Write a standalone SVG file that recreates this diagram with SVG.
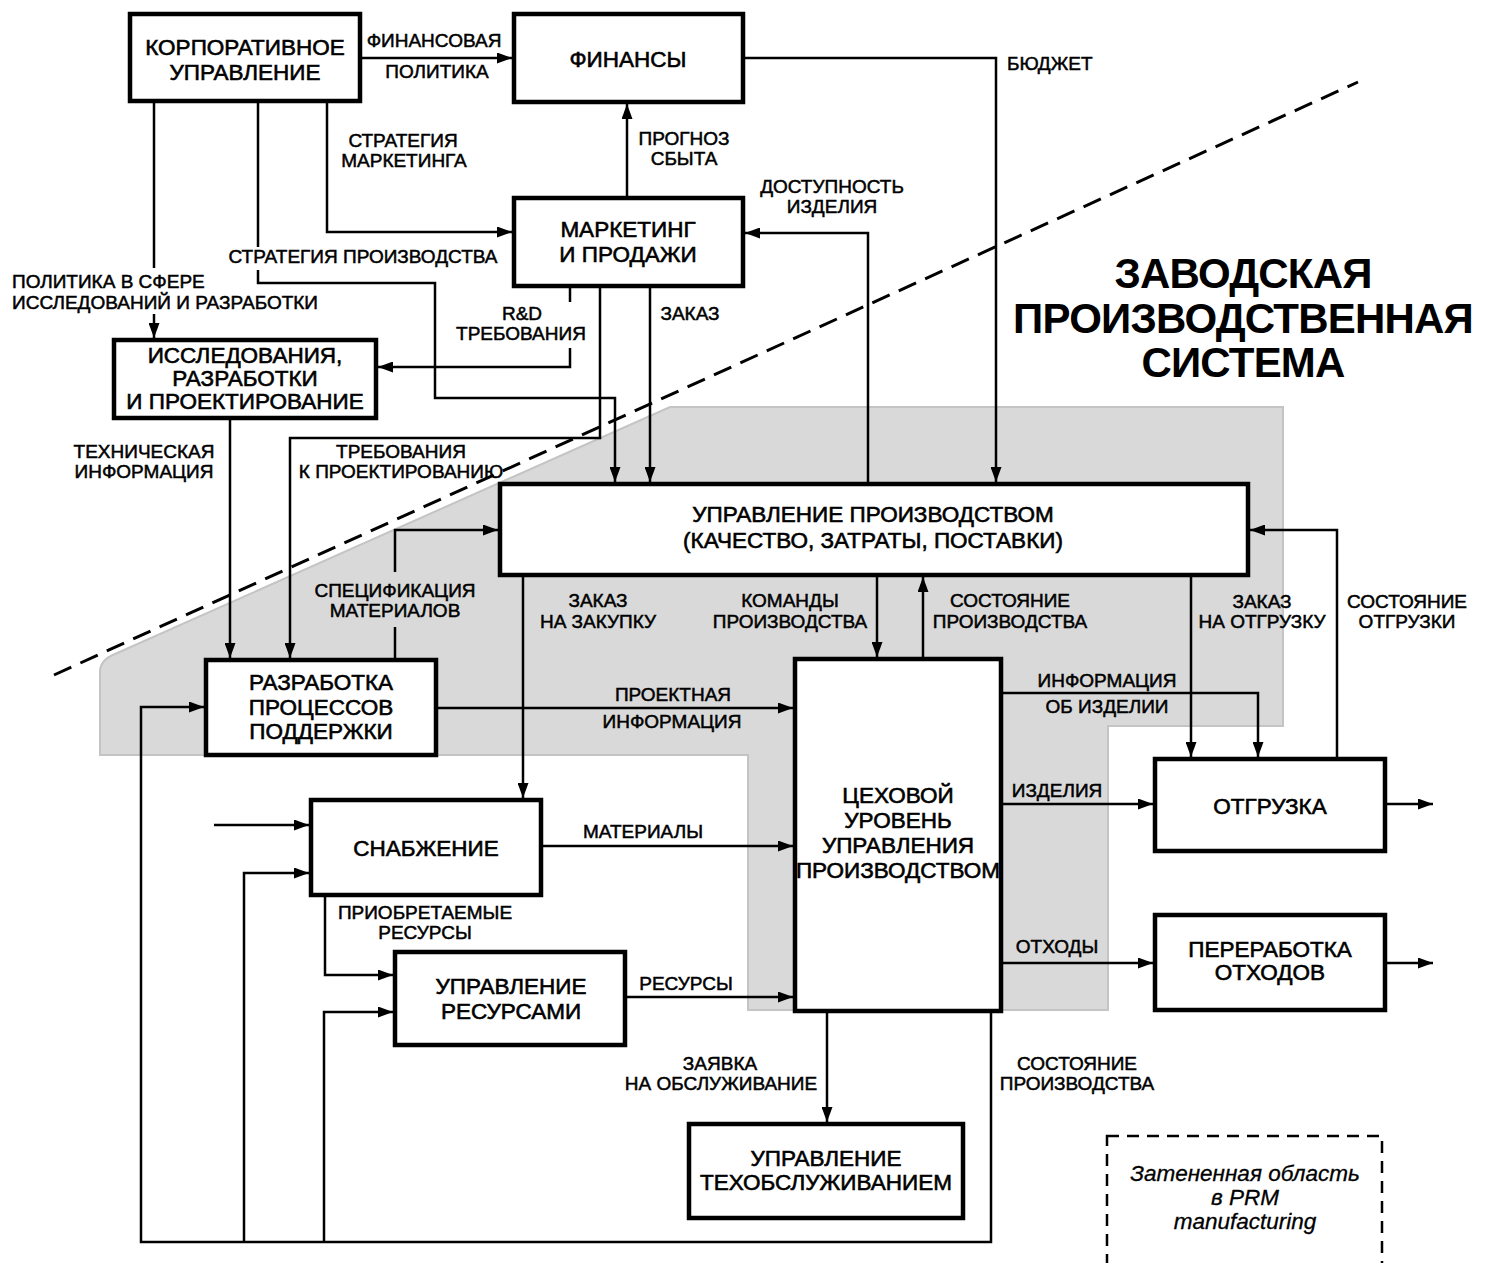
<svg xmlns="http://www.w3.org/2000/svg" width="1491" height="1263" viewBox="0 0 1491 1263">
<defs>
<marker id="arr" markerUnits="userSpaceOnUse" markerWidth="15" markerHeight="11" refX="15" refY="5.5" orient="auto">
<path d="M0,0 L15,5.5 L0,11 z" fill="#000"/>
</marker>
<style>
.box{fill:#fff;stroke:#000;stroke-width:4.5}
.ln{fill:none;stroke:#000;stroke-width:2.5}
.ar{marker-end:url(#arr)}
.bt{font-family:"Liberation Sans",Arial,sans-serif;font-size:22.5px;text-anchor:middle;fill:#000;stroke:#000;stroke-width:0.6}
.lt{font-family:"Liberation Sans",Arial,sans-serif;font-size:19px;text-anchor:middle;fill:#000;stroke:#000;stroke-width:0.5}
.st{text-anchor:start}
.title{font-family:"Liberation Sans",Arial,sans-serif;font-size:42px;font-weight:bold;text-anchor:middle;letter-spacing:-0.8px;fill:#000}
.it{font-family:"Liberation Sans",Arial,sans-serif;font-size:22.5px;font-style:italic;text-anchor:middle;fill:#000;stroke:#000;stroke-width:0.3}
</style>
</defs>
<rect width="1491" height="1263" fill="#fff"/>

<!-- shaded area -->
<path id="shade" d="M670,407 H1283 V726 H1108 V1010 H748 V755 H100 V672 Q100,660 115,654 Z" fill="#d9d9d9" stroke="#c4c4c4" stroke-width="2"/>

<!-- title -->
<g id="title">
<text class="title" x="1243" y="288">ЗАВОДСКАЯ</text>
<text class="title" x="1243" y="333">ПРОИЗВОДСТВЕННАЯ</text>
<text class="title" x="1243" y="377">СИСТЕМА</text>
</g>

<!-- connectors -->
<g id="connectors">
<path class="ln ar" d="M362,58 H512"/>
<path class="ln ar" d="M327,103 V232 H512"/>
<path class="ln" d="M258,103 V247"/>
<path class="ln ar" d="M258,270 V283 H435 V398 H615 V482"/>
<path class="ln" d="M154,103 V268"/>
<path class="ln ar" d="M154,314 V338"/>
<path class="ln ar" d="M627,196 V104"/>
<path class="ln ar" d="M745,58 H996 V482"/>
<path class="ln ar" d="M868,482 V233 H745"/>
<path class="ln" d="M570,288 V302"/>
<path class="ln ar" d="M570,348 V367 H378"/>
<path class="ln ar" d="M600,288 V438 H290 V658"/>
<path class="ln ar" d="M650,288 V482"/>
<path class="ln ar" d="M230,420 V658"/>
<path class="ln" d="M395,658 V627"/>
<path class="ln ar" d="M395,572 V530 H498"/>
<path class="ln ar" d="M523,577 V798"/>
<path class="ln ar" d="M877,577 V657"/>
<path class="ln ar" d="M923,657 V577"/>
<path class="ln ar" d="M1191,577 V757"/>
<path class="ln ar" d="M1337,757 V530 H1250"/>
<path class="ln ar" d="M1003,693 H1258 V757"/>
<path class="ln ar" d="M438,708 H793"/>
<path class="ln ar" d="M543,846 H793"/>
<path class="ln ar" d="M627,997 H793"/>
<path class="ln ar" d="M1003,804 H1153"/>
<path class="ln ar" d="M1003,963 H1153"/>
<path class="ln ar" d="M1387,804 H1433"/>
<path class="ln ar" d="M1387,963 H1433"/>
<path class="ln ar" d="M827,1013 V1122"/>
<path class="ln ar" d="M991,1013 V1242 H141 V707 H204"/>
<path class="ln ar" d="M244,1242 V873 H309"/>
<path class="ln ar" d="M324,1242 V1012 H393"/>
<path class="ln ar" d="M214,825 H309"/>
<path class="ln ar" d="M325,897 V975 H393"/>
</g>

<!-- dashed boundary -->
<path id="boundary" d="M54,675 L1358,82" fill="none" stroke="#000" stroke-width="3" stroke-dasharray="19,10"/>

<!-- connector labels -->
<g id="labels">
<text class="lt" x="434" y="47">ФИНАНСОВАЯ</text>
<text class="lt" x="437" y="78">ПОЛИТИКА</text>
<text class="lt" x="403" y="147">СТРАТЕГИЯ</text>
<text class="lt" x="404" y="167">МАРКЕТИНГА</text>
<text class="lt" x="363" y="263">СТРАТЕГИЯ ПРОИЗВОДСТВА</text>
<text class="lt st" x="12" y="288">ПОЛИТИКА В СФЕРЕ</text>
<text class="lt st" x="12" y="309">ИССЛЕДОВАНИЙ И РАЗРАБОТКИ</text>
<text class="lt" x="522" y="320">R&amp;D</text>
<text class="lt" x="521" y="340">ТРЕБОВАНИЯ</text>
<text class="lt" x="684" y="145">ПРОГНОЗ</text>
<text class="lt" x="684" y="165">СБЫТА</text>
<text class="lt" x="832" y="193">ДОСТУПНОСТЬ</text>
<text class="lt" x="832" y="213">ИЗДЕЛИЯ</text>
<text class="lt" x="690" y="320">ЗАКАЗ</text>
<text class="lt st" x="1007" y="70">БЮДЖЕТ</text>
<text class="lt" x="144" y="458">ТЕХНИЧЕСКАЯ</text>
<text class="lt" x="144" y="478">ИНФОРМАЦИЯ</text>
<text class="lt" x="401" y="458">ТРЕБОВАНИЯ</text>
<text class="lt" x="401" y="478">К ПРОЕКТИРОВАНИЮ</text>
<text class="lt" x="395" y="597">СПЕЦИФИКАЦИЯ</text>
<text class="lt" x="395" y="617">МАТЕРИАЛОВ</text>
<text class="lt" x="598" y="607">ЗАКАЗ</text>
<text class="lt" x="598" y="628">НА ЗАКУПКУ</text>
<text class="lt" x="790" y="607">КОМАНДЫ</text>
<text class="lt" x="790" y="628">ПРОИЗВОДСТВА</text>
<text class="lt" x="1010" y="607">СОСТОЯНИЕ</text>
<text class="lt" x="1010" y="628">ПРОИЗВОДСТВА</text>
<text class="lt" x="1262" y="608">ЗАКАЗ</text>
<text class="lt" x="1262" y="628">НА ОТГРУЗКУ</text>
<text class="lt" x="1407" y="608">СОСТОЯНИЕ</text>
<text class="lt" x="1407" y="628">ОТГРУЗКИ</text>
<text class="lt" x="1107" y="687">ИНФОРМАЦИЯ</text>
<text class="lt" x="1107" y="713">ОБ ИЗДЕЛИИ</text>
<text class="lt" x="673" y="701">ПРОЕКТНАЯ</text>
<text class="lt" x="672" y="728">ИНФОРМАЦИЯ</text>
<text class="lt" x="643" y="838">МАТЕРИАЛЫ</text>
<text class="lt" x="686" y="990">РЕСУРСЫ</text>
<text class="lt" x="1057" y="797">ИЗДЕЛИЯ</text>
<text class="lt" x="1057" y="953">ОТХОДЫ</text>
<text class="lt" x="720" y="1070">ЗАЯВКА</text>
<text class="lt" x="721" y="1090">НА ОБСЛУЖИВАНИЕ</text>
<text class="lt" x="1077" y="1070">СОСТОЯНИЕ</text>
<text class="lt" x="1077" y="1090">ПРОИЗВОДСТВА</text>
<text class="lt" x="425" y="919">ПРИОБРЕТАЕМЫЕ</text>
<text class="lt" x="425" y="939">РЕСУРСЫ</text>
</g>

<!-- nodes -->
<g id="corp"><rect class="box" x="130" y="14" width="230" height="87"/>
<text class="bt" x="245" y="55">КОРПОРАТИВНОЕ</text><text class="bt" x="245" y="80">УПРАВЛЕНИЕ</text></g>
<g id="finance"><rect class="box" x="514" y="14" width="229" height="88"/>
<text class="bt" x="628" y="67">ФИНАНСЫ</text></g>
<g id="marketing"><rect class="box" x="514" y="198" width="229" height="88"/>
<text class="bt" x="628" y="237">МАРКЕТИНГ</text><text class="bt" x="628" y="262">И ПРОДАЖИ</text></g>
<g id="rnd"><rect class="box" x="114" y="340" width="262" height="78"/>
<text class="bt" x="245" y="363">ИССЛЕДОВАНИЯ,</text><text class="bt" x="245" y="386">РАЗРАБОТКИ</text><text class="bt" x="245" y="409">И ПРОЕКТИРОВАНИЕ</text></g>
<g id="prodmgmt"><rect class="box" x="500" y="484" width="748" height="91"/>
<text class="bt" x="873" y="522">УПРАВЛЕНИЕ ПРОИЗВОДСТВОМ</text><text class="bt" x="873" y="548">(КАЧЕСТВО, ЗАТРАТЫ, ПОСТАВКИ)</text></g>
<g id="support"><rect class="box" x="206" y="660" width="230" height="95"/>
<text class="bt" x="321" y="690">РАЗРАБОТКА</text><text class="bt" x="321" y="715">ПРОЦЕССОВ</text><text class="bt" x="321" y="739">ПОДДЕРЖКИ</text></g>
<g id="shopfloor"><rect class="box" x="795" y="659" width="206" height="352"/>
<text class="bt" x="898" y="803">ЦЕХОВОЙ</text><text class="bt" x="898" y="828">УРОВЕНЬ</text><text class="bt" x="898" y="853">УПРАВЛЕНИЯ</text><text class="bt" x="898" y="878">ПРОИЗВОДСТВОМ</text></g>
<g id="supply"><rect class="box" x="311" y="800" width="230" height="95"/>
<text class="bt" x="426" y="856">СНАБЖЕНИЕ</text></g>
<g id="resources"><rect class="box" x="395" y="952" width="230" height="93"/>
<text class="bt" x="511" y="994">УПРАВЛЕНИЕ</text><text class="bt" x="511" y="1019">РЕСУРСАМИ</text></g>
<g id="shipping"><rect class="box" x="1155" y="759" width="230" height="92"/>
<text class="bt" x="1270" y="814">ОТГРУЗКА</text></g>
<g id="waste"><rect class="box" x="1155" y="915" width="230" height="95"/>
<text class="bt" x="1270" y="957">ПЕРЕРАБОТКА</text><text class="bt" x="1270" y="980">ОТХОДОВ</text></g>
<g id="maintenance"><rect class="box" x="689" y="1124" width="274" height="94"/>
<text class="bt" x="826" y="1166">УПРАВЛЕНИЕ</text><text class="bt" x="826" y="1190">ТЕХОБСЛУЖИВАНИЕМ</text></g>

<!-- legend -->
<g id="legend">
<rect x="1107" y="1136" width="275" height="150" fill="none" stroke="#000" stroke-width="2.5" stroke-dasharray="12,8"/>
<text class="it" x="1245" y="1181">Затененная область</text>
<text class="it" x="1245" y="1205">в PRM</text>
<text class="it" x="1245" y="1229">manufacturing</text>
</g>
</svg>
